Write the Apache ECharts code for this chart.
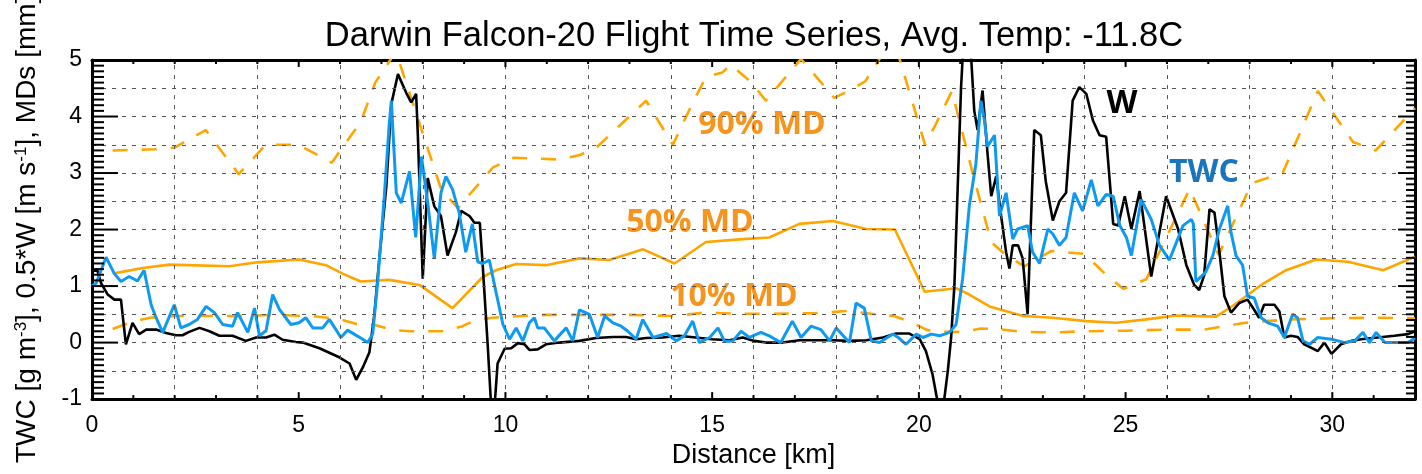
<!DOCTYPE html>
<html><head><meta charset="utf-8">
<script src="https://cdn.jsdelivr.net/npm/echarts@6/dist/echarts.min.js"></script>
<style>html,body{margin:0;padding:0;background:#fff}#c{width:1422px;height:474px}</style>
</head><body><div id="c"></div>
<script>
// ---- data (x = distance [km], y = value) ----
const xRange = [0, 32];
const yRange = [-1, 5];
const xGridValues = [2, 4, 6, 8, 10, 12, 14, 16, 18, 20, 22, 24, 26, 28, 30];
const yGridValues = [-0.5, 0, 0.5, 1, 1.5, 2, 2.5, 3, 3.5, 4, 4.5];
const xLabelValues = [0, 5, 10, 15, 20, 25, 30];
const xTickValues = [0,1,2,3,4,5,6,7,8,9,10,11,12,13,14,15,16,17,18,19,20,21,22,23,24,25,26,27,28,29,30,31,32];

const wData = [[0,1.25],[0.12,1.3],[0.22,1.05],[0.38,0.85],[0.54,0.76],[0.70,0.76],[0.82,-0.03],[0.98,0.35],[1.14,0.15],[1.31,0.23],[1.55,0.23],[1.79,0.17],[2.03,0.13],[2.19,0.13],[2.35,0.19],[2.6,0.26],[2.84,0.2],[3.08,0.12],[3.4,0.12],[3.72,0.03],[3.97,0.09],[4.21,0.09],[4.41,0.14],[4.61,0.05],[4.93,0.01],[5.1,0.0],[5.5,-0.1],[5.98,-0.26],[6.23,-0.37],[6.39,-0.66],[6.55,-0.44],[6.71,-0.17],[6.83,0.5],[6.95,1.49],[7.12,2.77],[7.24,4.22],[7.40,4.75],[7.6,4.42],[7.72,4.25],[7.84,4.4],[7.88,3.7],[8.0,1.13],[8.12,2.91],[8.28,2.41],[8.44,2.24],[8.6,1.54],[8.8,1.95],[8.93,2.33],[9.13,2.24],[9.25,2.12],[9.38,2.12],[9.45,1.37],[9.57,-0.03],[9.66,-1.2],[9.73,-1.2],[9.81,-0.37],[9.98,-0.11],[10.14,-0.1],[10.3,-0.01],[10.46,-0.03],[10.58,-0.13],[10.78,-0.12],[10.98,-0.03],[11.3,0.0],[11.79,0.03],[12.19,0.08],[12.6,0.1],[12.92,0.1],[13.16,0.06],[13.4,0.08],[13.8,0.09],[14.2,0.12],[14.6,0.09],[15.0,0.06],[15.42,0.04],[15.74,0.09],[16.02,0.03],[16.3,0.0],[16.7,0.0],[17.11,0.04],[17.5,0.04],[17.92,0.04],[18.32,0.03],[18.73,0.04],[19.13,0.09],[19.45,0.16],[19.77,0.16],[20.02,0.06],[20.17,-0.15],[20.33,-0.56],[20.49,-1.2],[20.58,-1.2],[20.7,-0.5],[20.78,0.09],[20.86,1.02],[20.94,2.77],[21.02,4.51],[21.1,5.6],[21.22,5.6],[21.34,4.1],[21.42,3.76],[21.54,4.46],[21.66,3.35],[21.75,2.59],[21.87,2.94],[21.99,2.24],[22.11,1.6],[22.19,1.31],[22.27,1.72],[22.4,1.72],[22.51,1.49],[22.63,0.5],[22.79,3.76],[22.95,3.67],[23.07,2.85],[23.24,2.16],[23.4,2.5],[23.56,2.65],[23.72,4.28],[23.88,4.52],[24.05,4.4],[24.21,3.93],[24.37,3.67],[24.53,3.64],[24.7,2.1],[24.82,2.07],[24.98,2.59],[25.14,2.01],[25.34,2.68],[25.62,1.17],[25.98,2.59],[26.27,2.01],[26.47,1.37],[26.66,1.02],[26.78,0.93],[26.9,1.19],[27.03,2.36],[27.15,2.3],[27.27,1.6],[27.39,0.82],[27.55,0.53],[27.75,0.7],[27.95,0.76],[28.11,0.58],[28.23,0.44],[28.35,0.67],[28.6,0.67],[28.72,0.55],[28.84,0.09],[29.0,0.12],[29.16,0.1],[29.32,-0.03],[29.65,-0.15],[29.81,0],[29.98,-0.2],[30.21,-0.03],[30.46,0.03],[30.7,0.06],[31.1,0.09],[31.5,0.12],[31.83,0.15],[32,0.2]];

const twcData = [[0,1.0],[0.1,1.05],[0.34,1.51],[0.54,1.22],[0.70,1.08],[0.9,1.17],[1.1,1.09],[1.26,1.28],[1.43,0.67],[1.55,0.44],[1.71,0.18],[1.99,0.67],[2.15,0.26],[2.35,0.32],[2.55,0.41],[2.76,0.64],[2.96,0.53],[3.16,0.32],[3.4,0.29],[3.52,0.53],[3.77,0.18],[3.93,0.61],[4.05,0.12],[4.21,0.21],[4.37,0.85],[4.53,0.59],[4.81,0.32],[5.01,0.35],[5.17,0.44],[5.34,0.26],[5.58,0.26],[5.74,0.41],[5.9,0.23],[6.02,0.09],[6.18,0.22],[6.34,0.15],[6.5,0.08],[6.67,0.0],[6.79,0.15],[6.91,1.08],[7.07,2.59],[7.19,3.87],[7.24,4.28],[7.36,2.65],[7.48,2.47],[7.68,3.03],[7.83,1.86],[7.97,3.29],[8.12,2.47],[8.28,1.49],[8.44,2.65],[8.56,2.94],[8.72,2.71],[8.88,2.3],[9.04,1.6],[9.2,2.1],[9.33,1.43],[9.45,1.4],[9.61,1.46],[9.77,0.9],[9.94,0.32],[10.1,0.06],[10.26,0.26],[10.42,0.03],[10.58,0.35],[10.7,0.44],[10.78,0.26],[10.94,0.26],[11.18,0.03],[11.47,0.26],[11.63,0.03],[11.79,0.58],[12.03,0.5],[12.23,0.09],[12.4,0.47],[12.6,0.35],[12.8,0.29],[12.96,0.2],[13.16,0.06],[13.32,0.41],[13.57,0.09],[13.9,0.16],[14.13,0.03],[14.33,0.12],[14.53,0.38],[14.69,0.0],[14.94,0.09],[15.14,0.26],[15.3,0.02],[15.5,0.03],[15.7,0.2],[15.9,0.09],[16.18,0.18],[16.38,0.12],[16.66,0.0],[16.94,0.38],[17.15,0.09],[17.39,0.29],[17.63,0.23],[17.84,0.03],[18.0,0.26],[18.32,0.0],[18.48,0.7],[18.68,0.61],[18.85,0.03],[19.05,0.0],[19.37,0.15],[19.5,0.09],[19.69,-0.03],[19.94,0.15],[20.1,0.09],[20.3,0.15],[20.5,0.12],[20.74,0.18],[20.9,0.32],[21.06,1.14],[21.22,2.42],[21.38,3.17],[21.5,4.28],[21.58,3.96],[21.66,3.47],[21.83,3.67],[21.95,2.24],[22.11,2.65],[22.27,1.83],[22.39,2.01],[22.63,2.07],[22.75,1.6],[22.92,1.4],[23.12,2.01],[23.24,1.92],[23.4,1.72],[23.56,1.86],[23.76,2.65],[23.96,2.33],[24.17,2.88],[24.33,2.42],[24.53,2.62],[24.7,2.59],[24.86,2.07],[25.02,1.86],[25.14,1.54],[25.38,2.53],[25.62,2.18],[25.82,1.72],[26.06,1.46],[26.39,2.07],[26.59,2.18],[26.64,2.1],[26.7,1.08],[26.83,1.17],[26.94,1.25],[27.11,1.54],[27.27,2.01],[27.47,2.42],[27.55,1.95],[27.67,1.54],[27.83,1.37],[27.95,0.82],[28.11,0.79],[28.28,0.44],[28.44,0.35],[28.68,0.29],[28.84,0.09],[29.04,0.5],[29.16,0.44],[29.29,0.03],[29.45,-0.03],[29.65,0.09],[29.98,0.06],[30.3,0],[30.54,0.03],[30.74,0.18],[30.9,0],[31.06,0.18],[31.27,0],[31.59,0],[31.83,0],[32,0.08]];

const md50Data = [[0.5,1.22],[1.23,1.32],[1.87,1.38],[3.32,1.35],[4.0,1.42],[5.01,1.47],[5.66,1.37],[6.06,1.22],[6.5,1.08],[7.19,1.11],[7.92,1.02],[8.72,0.61],[9.45,1.16],[9.77,1.28],[10.26,1.39],[10.98,1.37],[11.79,1.49],[12.51,1.46],[13.33,1.65],[14.09,1.40],[14.85,1.78],[15.74,1.83],[16.38,1.86],[17.11,2.10],[17.92,2.15],[18.73,2.01],[19.42,2.0],[20.14,0.9],[20.91,0.96],[21.22,0.85],[21.71,0.64],[22.52,0.47],[23.24,0.44],[24.05,0.38],[24.78,0.35],[25.5,0.41],[26.22,0.48],[27.19,0.46],[27.63,0.67],[28.28,1.02],[28.88,1.28],[29.61,1.47],[30.38,1.43],[31.23,1.28],[32.0,1.52]];

const md10Data = [[0.5,0.24],[0.9,0.35],[1.4,0.44],[2.0,0.47],[3.5,0.47],[4.4,0.49],[5.3,0.47],[5.7,0.44],[6.0,0.41],[6.4,0.33],[6.8,0.32],[7.3,0.22],[7.7,0.2],[8.5,0.2],[8.96,0.29],[9.28,0.4],[9.69,0.44],[10.1,0.46],[11,0.49],[12,0.49],[13,0.49],[14.1,0.47],[14.8,0.53],[15.7,0.51],[16.5,0.51],[17.5,0.52],[18.3,0.56],[18.96,0.5],[19.4,0.47],[19.85,0.35],[20.2,0.22],[20.7,0.19],[21.1,0.19],[21.5,0.25],[21.9,0.24],[22.5,0.19],[23.3,0.18],[24.0,0.2],[25.0,0.21],[26.0,0.23],[26.9,0.23],[27.4,0.29],[27.9,0.35],[28.4,0.38],[29.0,0.41],[30.0,0.43],[31.0,0.44],[32.0,0.43]];

const md90Data = [[0.5,3.4],[1.5,3.42],[2.0,3.45],[2.75,3.76],[3.55,2.98],[4.2,3.5],[5.0,3.5],[5.8,3.18],[6.3,3.7],[6.5,3.9],[6.85,4.6],[7.35,5.15],[8.45,2.7],[8.85,2.38],[9.7,3.1],[10.2,3.27],[11.3,3.24],[11.8,3.32],[12.2,3.45],[13.4,4.28],[14.05,3.5],[14.5,4.2],[14.85,4.7],[15.25,4.78],[15.45,4.92],[15.95,4.6],[16.3,4.28],[17.15,5.02],[17.95,4.33],[18.3,4.45],[18.7,4.62],[19.25,5.25],[19.5,5.1],[20.15,3.5],[20.4,3.85],[20.8,4.45],[21.3,3.0],[21.75,1.78],[22.1,1.55],[22.55,1.35],[23.2,1.62],[24.0,1.57],[24.6,1.15],[24.95,0.95],[25.5,1.12],[26.55,2.72],[27.25,1.55],[28.05,2.82],[28.8,3.0],[29.65,4.45],[30.5,3.55],[31.05,3.4],[32.0,4.15]];

const titleText = 'Darwin Falcon-20 Flight Time Series, Avg. Temp: -11.8C';
const xName = 'Distance [km]';

// minor y ticks every 0.1 across the axis range
const yTickValues = [];
for (let k = yRange[0] * 10; k <= yRange[1] * 10; k++) yTickValues.push(k / 10);

// ---- styles ----
const SANS = "'Liberation Sans', Arial, sans-serif";
const BOLD = "'Open Sans', sans-serif";
const ORANGE = '#FFA500';
const BLUE = '#0F9AF2';

const gridMarks = xGridValues.map(v => ({xAxis: v})).concat(yGridValues.map(v => ({yAxis: v})));

const textGraphics = [
  {type: 'text', x: 754, y: 36, style: {text: titleText, fontSize: 34.5, fontFamily: SANS,
    fill: '#000', align: 'center', verticalAlign: 'middle'}},
  {type: 'text', x: 27, y: 463, rotation: Math.PI / 2, style: {
    text: '{a|TWC [g m}{s|-3}{a|], 0.5*W [m s}{s|-1}{a|], MDs [mm]}',
    align: 'left', verticalAlign: 'middle',
    rich: {a: {fontSize: 28, fontFamily: SANS, fill: '#000'},
           s: {fontSize: 17, fontFamily: SANS, fill: '#000', verticalAlign: 'top'}}}},
  {type: 'text', x: 762, y: 125, style: {text: '90% MD', fontSize: 32, fontWeight: 'bold',
    fontFamily: BOLD, fill: '#F7941D', align: 'center', verticalAlign: 'middle'}},
  {type: 'text', x: 690, y: 223, style: {text: '50% MD', fontSize: 32, fontWeight: 'bold',
    fontFamily: BOLD, fill: '#F7941D', align: 'center', verticalAlign: 'middle'}},
  {type: 'text', x: 734, y: 297, style: {text: '10% MD', fontSize: 32, fontWeight: 'bold',
    fontFamily: BOLD, fill: '#F7941D', align: 'center', verticalAlign: 'middle'}},
  {type: 'text', x: 1122, y: 104, style: {text: 'W', fontSize: 32, fontWeight: 'bold',
    fontFamily: BOLD, fill: '#000', align: 'center', verticalAlign: 'middle'}},
  {type: 'text', x: 1204, y: 173, style: {text: 'TWC', fontSize: 32, fontWeight: 'bold',
    fontFamily: BOLD, fill: '#1B75BC', align: 'center', verticalAlign: 'middle'}}
];

const chart = echarts.init(document.getElementById('c'));
chart.setOption({
  animation: false,
  grid: {left: 92, right: 7, top: 60, bottom: 70},
  xAxis: [
    {type: 'value', min: xRange[0], max: xRange[1], interval: 1, position: 'bottom',
     axisLine: {show: true, onZero: false, lineStyle: {color: '#000', width: 3}},
     axisTick: {show: false},
     axisLabel: {show: true, margin: 15, fontSize: 23, color: '#000', fontFamily: SANS,
       showMaxLabel: false, formatter: v => (xLabelValues.indexOf(v) >= 0 ? String(v) : '')},
     splitLine: {show: false},
     name: xName, nameLocation: 'middle', nameGap: 42,
     nameTextStyle: {fontSize: 27, color: '#000', fontFamily: SANS}},
    {type: 'value', min: xRange[0], max: xRange[1], interval: 1, position: 'top',
     axisLine: {show: true, onZero: false, lineStyle: {color: '#000', width: 3}},
     axisTick: {show: false}, axisLabel: {show: false}, splitLine: {show: false}}
  ],
  yAxis: [
    {type: 'value', min: yRange[0], max: yRange[1], interval: 1, position: 'left',
     axisLine: {show: true, onZero: false, lineStyle: {color: '#000', width: 3}},
     axisTick: {show: false},
     axisLabel: {show: true, margin: 10, fontSize: 23, color: '#000', fontFamily: SANS},
     splitLine: {show: false}},
    {type: 'value', min: yRange[0], max: yRange[1], interval: 1, position: 'right',
     axisLine: {show: true, onZero: false, lineStyle: {color: '#000', width: 3}},
     axisTick: {show: false}, axisLabel: {show: false}, splitLine: {show: false}}
  ],
  series: [
    {name: 'grid', type: 'line', data: [], symbol: 'none', z: 1, silent: true,
      markLine: {silent: true, symbol: ['none', 'none'], label: {show: false}, animation: false,
        emphasis: {disabled: true},
        lineStyle: {color: '#555', width: 1, type: [4, 6]}, data: gridMarks}},
    {name: '90% MD', type: 'line', data: md90Data, symbol: 'none',
      lineStyle: {color: ORANGE, width: 2.6, type: [15, 14]}},
    {name: '10% MD', type: 'line', data: md10Data, symbol: 'none',
      lineStyle: {color: ORANGE, width: 2.6, type: [15, 14]}},
    {name: '50% MD', type: 'line', data: md50Data, symbol: 'none',
      lineStyle: {color: ORANGE, width: 2.6}},
    {name: 'W', type: 'line', data: wData, symbol: 'none',
      lineStyle: {color: '#000', width: 2.6}},
    {name: 'TWC', type: 'line', data: twcData, symbol: 'none',
      lineStyle: {color: BLUE, width: 3}}
  ],
  graphic: textGraphics
});

// Tick marks: positions come from the chart's own axis scales (convertToPixel)
const tickEls = [];
function tickRect(x, y, w, h) {
  return {type: 'rect', silent: true, z: 100, shape: {x: x, y: y, width: w, height: h}, style: {fill: '#000'}};
}
xTickValues.forEach(v => {
  const b = chart.convertToPixel({gridIndex: 0}, [v, yRange[0]]);
  const t = chart.convertToPixel({gridIndex: 0}, [v, yRange[1]]);
  const L = (v % 5 === 0) ? 7 : 4;
  tickEls.push(tickRect(b[0] - 1, b[1] - L, 2, L));
  tickEls.push(tickRect(t[0] - 1, t[1], 2, L));
});
yTickValues.forEach(v => {
  const l = chart.convertToPixel({gridIndex: 0}, [xRange[0], v]);
  const r = chart.convertToPixel({gridIndex: 0}, [xRange[1], v]);
  const major = Math.abs(v - Math.round(v)) < 1e-6;
  const LL = major ? 26 : 12, LR = major ? 17 : 9;
  tickEls.push(tickRect(l[0], l[1] - 1, LL, 2));
  tickEls.push(tickRect(r[0] - LR, r[1] - 1, LR, 2));
});
chart.setOption({graphic: textGraphics.concat(tickEls)});
</script>
</body></html>
